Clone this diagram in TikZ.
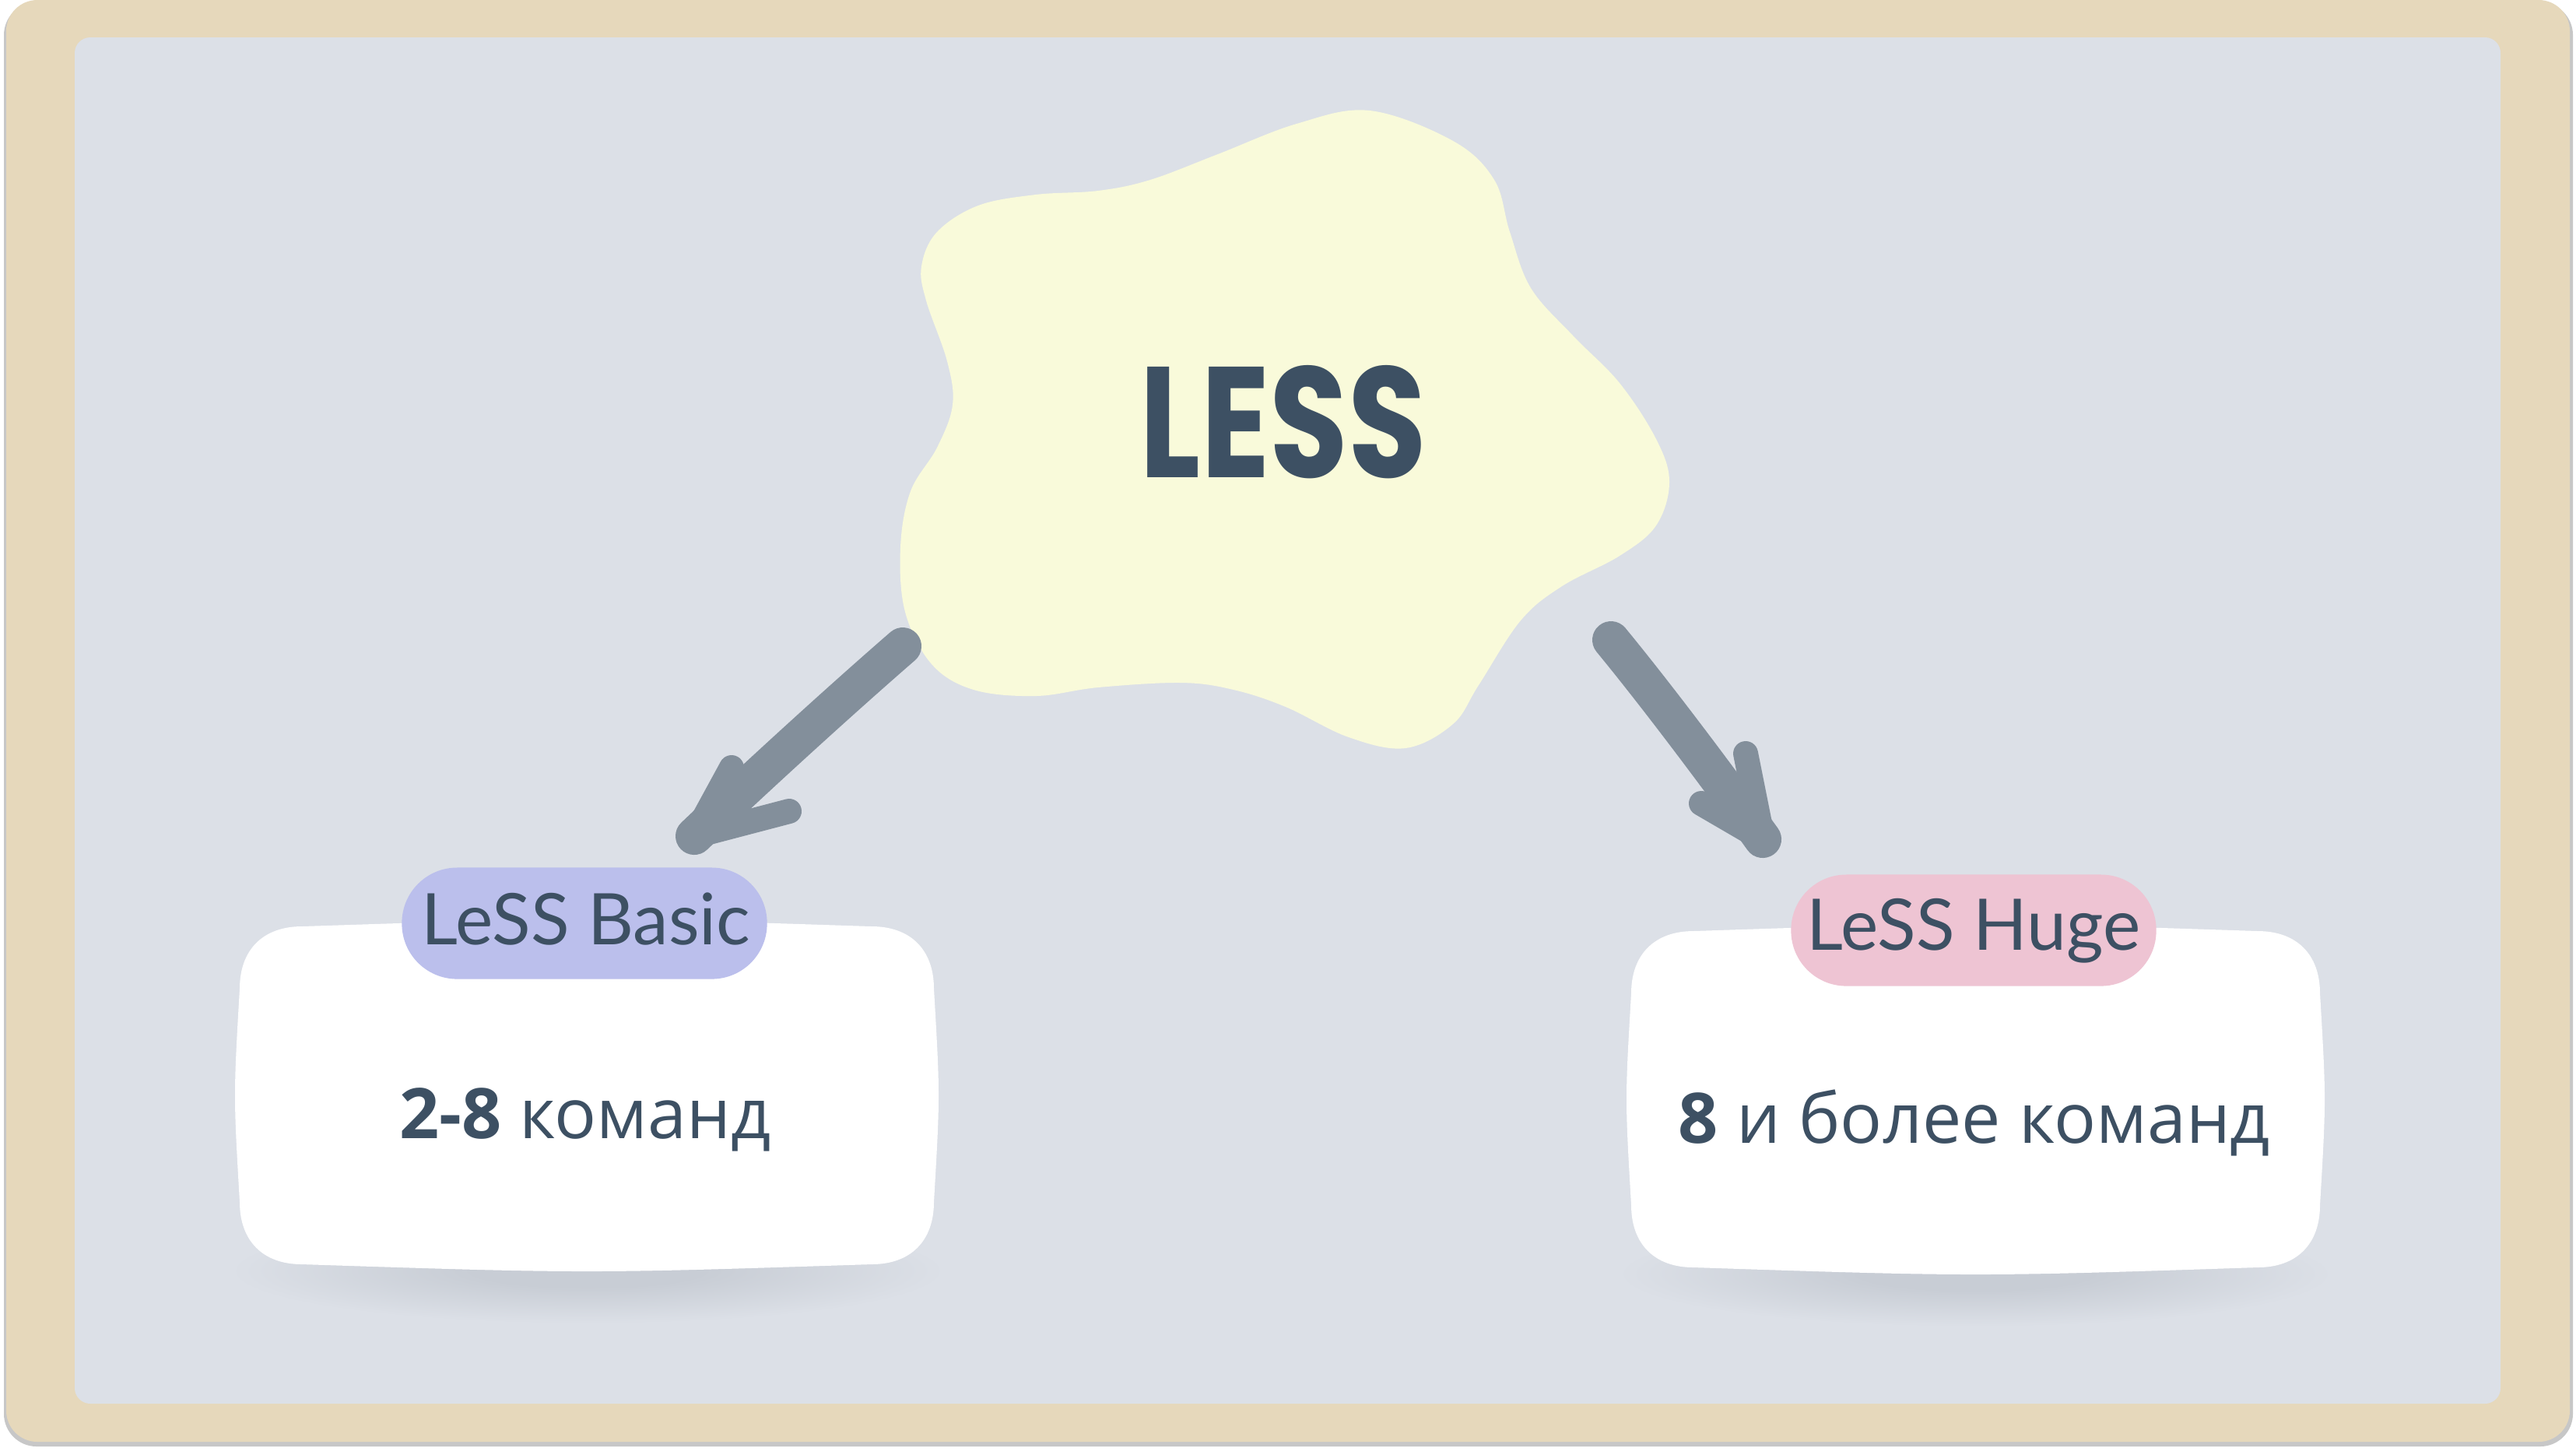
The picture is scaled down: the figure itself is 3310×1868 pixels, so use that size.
\documentclass[tikz,border=0pt]{standalone}
\usepackage{fontspec}
\usepackage{graphicx}
\usetikzlibrary{calc}
\setmainfont{Open Sans}
\newfontfamily\lessfont{Poppins}
\newfontfamily\tagfont{Lato}
\definecolor{framecol}{HTML}{E6D8BB}
\definecolor{panel}{HTML}{DCE0E7}
\definecolor{blobcol}{HTML}{F9FADA}
\definecolor{arrowcol}{HTML}{838F9B}
\definecolor{tagA}{HTML}{BBBFEC}
\definecolor{tagB}{HTML}{EEC4D3}
\definecolor{ink}{HTML}{3D5063}
\definecolor{shd}{HTML}{C8CDD5}
\pgfdeclareradialshading{cardshadow}{\pgfpoint{0bp}{0bp}}{color(0bp)=(shd); color(8bp)=(shd); color(25bp)=(panel); color(50bp)=(panel)}
\newcommand\cardfill[4]{%
 \fill[white] ({#1+80},{#2}) .. controls ({(#1+#3)/2},{#2-12}) .. ({#3-80},{#2})
  .. controls ({#3-30},{#2}) and ({#3},{#2+30}) .. ({#3},{#2+80})
  .. controls ({#3+8},{(#2+#4)/2}) .. ({#3},{#4-80})
  .. controls ({#3},{#4-30}) and ({#3-30},{#4}) .. ({#3-80},{#4})
  .. controls ({(#1+#3)/2},{#4+12}) .. ({#1+80},{#4})
  .. controls ({#1+30},{#4}) and ({#1},{#4-30}) .. ({#1},{#4-80})
  .. controls ({#1-8},{(#2+#4)/2}) .. ({#1},{#2+80})
  .. controls ({#1},{#2+30}) and ({#1+30},{#2}) .. ({#1+80},{#2}) -- cycle;}
\begin{document}
\begin{tikzpicture}[x=0.01cm,y=-0.01cm,
  tagpill/.style={rectangle, rounded corners=0.71cm, minimum width=4.69cm, minimum height=1.43cm, inner sep=0pt},
  tagtext/.style={text=ink, font=\tagfont\fontsize{26pt}{30pt}\selectfont, inner sep=0pt},
  bodytext/.style={text=ink, font=\fontsize{25.5pt}{30pt}\selectfont, inner sep=0pt},
  arrowline/.style={draw=arrowcol, line width=0.48cm, line cap=round},
  barbline/.style={draw=arrowcol, fill=arrowcol, line width=0.32cm, line cap=round, line join=round}]
\useasboundingbox (0,0) rectangle (3310,1868);
\fill[white] (0,0) rectangle (3310,1868);
% frame and panel
\fill[black!22, rounded corners=0.42cm] (5,3) rectangle (3306,1858);
\fill[framecol, rounded corners=0.4cm] (8,0) rectangle (3302,1852);
\fill[panel, rounded corners=0.2cm] (96,48) rectangle (3213,1803);
% blob
\fill[blobcol] plot[smooth cycle, tension=0.6] coordinates {
 (1760,142) (1867,181) (1920,231) (1940,298) (1967,370) (2021,431) (2081,492)
 (2128,564) (2145,619) (2128,675) (2081,714) (2007,753) (1954,797) (1900,880)
 (1867,930) (1806,961) (1733,947) (1652,908) (1585,886) (1518,877) (1411,883)
 (1331,894) (1251,886) (1197,853) (1163,786) (1157,703) (1170,631) (1204,575)
 (1224,520) (1217,464) (1190,386) (1184,342) (1204,298) (1257,264) (1331,250)
 (1411,245) (1478,231) (1565,198) (1666,159)};
\node[text=ink, inner sep=0pt] (less) at (1649,542) {\resizebox{3.68cm}{1.44cm}{\lessfont\bfseries LESS}};
% shadows
\shade[shading=cardshadow] (755,1632) ellipse [x radius=4.6cm, y radius=0.68cm];
\shade[shading=cardshadow] (2538,1636) ellipse [x radius=4.6cm, y radius=0.68cm];
% cards
\cardfill{308}{1190}{1200}{1624}
\cardfill{2096}{1196}{2981}{1628}
% tags
\node[tagpill, fill=tagA] (tagL) at (751,1186) {};
\node[tagtext, anchor=base] (tagLt) at (753,1213) {LeSS Basic};
\node[tagpill, fill=tagB] (tagR) at (2536,1195) {};
\node[tagtext, anchor=base] (tagRt) at (2536,1220) {LeSS Huge};
% body texts
\node[bodytext, anchor=base] (bodyL) at (752,1462) {{\bfseries 2-8} команд};
\node[bodytext, anchor=base] (bodyR) at (2537,1468) {{\bfseries 8} и более команд};
% arrows
\coordinate (aLs) at (1160,830);
\coordinate (aLt) at (892,1074);
\coordinate (aLb1) at (940,986);
\coordinate (aLb2) at (1014,1042);
\draw[arrowline] (aLs) .. controls (1085,895) and (975,995) .. (aLt);
\draw[barbline] (aLb1) -- (aLt) -- (aLb2) -- ($(aLt)!0.45!(aLb2)$) -- ($(aLt)!0.45!(aLb1)$) -- cycle;
\coordinate (aRs) at (2070,822);
\coordinate (aRt) at (2265,1078);
\coordinate (aRb1) at (2243,968);
\coordinate (aRb2) at (2186,1032);
\draw[arrowline] (aRs) .. controls (2130,895) and (2205,995) .. (aRt);
\draw[barbline] (aRb1) -- (aRt) -- (aRb2) -- ($(aRt)!0.45!(aRb2)$) -- ($(aRt)!0.45!(aRb1)$) -- cycle;
\end{tikzpicture}
\end{document}
